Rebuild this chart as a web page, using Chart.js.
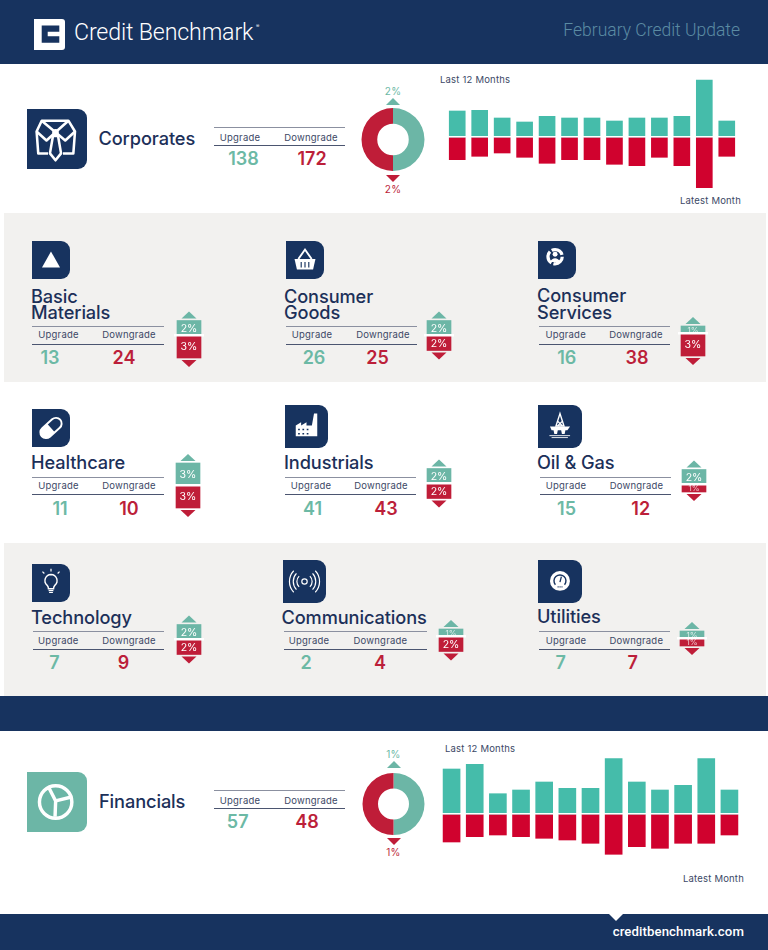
<!DOCTYPE html>
<html>
<head>
<meta charset="utf-8">
<title>February Credit Update</title>
<script src="https://cdn.jsdelivr.net/npm/chart.js@4/dist/chart.umd.min.js"></script>
<style>
  html, body { margin: 0; padding: 0; background: #fff; }
  #page { position: relative; width: 768px; height: 950px; overflow: hidden; background: #fff; font-family: "Inter", Roboto, sans-serif; color: #1a3059; }
  #page > * { position: absolute; }
  .band { background: #17335f; left: 0; width: 768px; }
  .panel { background: #f2f1ef; left: 4px; width: 762px; }
  .t { white-space: nowrap; line-height: 1; }
  .c { transform: translate(-50%, -50%); }
  .l { transform: translateY(-50%); }
  .name { font-size: 18.2px; font-weight: 500; letter-spacing: -0.1px; line-height: 16.5px; color: #1c3059; }
  .head { font-size: 9.5px; color: #3c4866; letter-spacing: 0.2px; }
  .val { font-size: 18px; font-weight: 600; }
  .note { font-size: 9.5px; color: #3c4866; letter-spacing: 0.2px; }
  .up { color: #6cb9a5; }
  .down { color: #bc1f3a; }
  .rule { height: 0; }
  .icon { background: #17335f; border-radius: 0 9px 9px 0; }
  .icon svg { width: 100%; height: 100%; display: block; }
  canvas { display: block; }
  .tri { width: 0; height: 0; border-left: 7px solid transparent; border-right: 7px solid transparent; }
</style>
</head>
<body>
<div id="page"></div>
<script>
const months = ['Feb', 'Mar', 'Apr', 'May', 'Jun', 'Jul', 'Aug', 'Sep', 'Oct', 'Nov', 'Dec', 'Jan', 'Feb'];

// bar heights (no axis in the original, so arbitrary units)
const corporatesUp = [26, 26.7, 19, 15, 20.7, 19, 19, 16, 19, 19, 20.7, 57, 16];
const corporatesDown = [22.7, 19.3, 16, 20.3, 26.3, 22.7, 22.7, 27.3, 28.7, 20.3, 28.7, 50.7, 19.3];
const financialsUp = [45, 49.7, 20.3, 24, 32, 25.7, 25.7, 55.3, 32, 24, 28.7, 55.3, 24];
const financialsDown = [28, 22.7, 21, 22.7, 24.3, 26, 29.3, 40.3, 32.7, 34.3, 29.3, 29.3, 21];

const corporatesShare = [2, 2];
const financialsShare = [1, 1];
const corporatesCounts = [138, 172];
const financialsCounts = [57, 48];

const sectorNames = ['Basic\nMaterials', 'Consumer\nGoods', 'Consumer\nServices', 'Healthcare', 'Industrials', 'Oil & Gas', 'Technology', 'Communications', 'Utilities'];
const sectorUpgrades = [13, 26, 16, 11, 41, 15, 7, 2, 7];
const sectorDowngrades = [24, 25, 38, 10, 43, 12, 9, 4, 7];
const sectorUpPct = [2, 2, 1, 3, 2, 2, 2, 1, 1];
const sectorDownPct = [3, 2, 3, 3, 2, 1, 2, 2, 1];

const TEAL = '#6cb6a6', RED = '#bf1d38', BAR_TEAL = '#45bcaa', BAR_RED = '#d0022e';

// where each sector block sits on the page
const cards = [
  { icon: 'triangle', ix: 32, iy: 241, iw: 38, ih: 38, tx: 31, ty: 303.5, x1: 32, x2: 164, r1: 325.5, r2: 344, hu: 58.5, hd: 129, vu: 50, vd: 124, vy: 358, mx: 188.7, my: 335.3 },
  { icon: 'basket', ix: 286, iy: 241, iw: 38, ih: 38, tx: 284, ty: 303.5, x1: 286, x2: 417, r1: 325.5, r2: 344, hu: 312, hd: 383, vu: 314, vd: 377.5, vy: 358, mx: 439.3, my: 335.3 },
  { icon: 'service', ix: 538, iy: 241, iw: 38, ih: 38, tx: 537, ty: 303, x1: 539, x2: 670, r1: 325.5, r2: 344, hu: 565.7, hd: 636, vu: 566.7, vd: 637, vy: 358, mx: 693, my: 333.7 },
  { icon: 'pill', ix: 32, iy: 409, iw: 38, ih: 38, tx: 31, ty: 462, x1: 32, x2: 164, r1: 477, r2: 494.3, hu: 58.5, hd: 129, vu: 60, vd: 129, vy: 508.5, mx: 188.3, my: 485.3 },
  { icon: 'factory', ix: 285, iy: 405, iw: 43, ih: 43, tx: 284, ty: 462, x1: 285, x2: 416, r1: 477, r2: 494.3, hu: 311, hd: 381, vu: 312.5, vd: 386, vy: 508.5, mx: 438.7, my: 483 },
  { icon: 'rig', ix: 538, iy: 405, iw: 43.5, ih: 43, tx: 537, ty: 461.5, x1: 540, x2: 671, r1: 477, r2: 494.3, hu: 566, hd: 636.5, vu: 566.5, vd: 640.7, vy: 508.5, mx: 694, my: 484.7 },
  { icon: 'bulb', ix: 32, iy: 564, iw: 38, ih: 38, tx: 31, ty: 617, x1: 33, x2: 164, r1: 631.3, r2: 649.3, hu: 58.3, hd: 129, vu: 54.4, vd: 123.5, vy: 663.3, mx: 188.7, my: 639 },
  { icon: 'signal', ix: 283, iy: 560, iw: 43, ih: 43, tx: 281.5, ty: 617, x1: 284, x2: 426.5, r1: 631.3, r2: 649.3, hu: 309, hd: 380.4, vu: 306, vd: 380, vy: 663.3, mx: 450.5, my: 636.8 },
  { icon: 'gauge', ix: 538, iy: 560, iw: 43.5, ih: 43, tx: 537, ty: 616, x1: 539, x2: 670, r1: 631.3, r2: 649.3, hu: 566, hd: 636.3, vu: 560.8, vd: 632.8, vy: 663.3, mx: 691.7, my: 638.2 }
];

const icons = {
  tie: '<g fill="none" stroke="#fff" stroke-width="1.7" stroke-linejoin="round"><path d="M14 29.600H7.500L6.400 15l3.400-7.200h17.800L32 15l-1.100 14.600H24"/><path d="M9.800 7.800l9.200 7.700 8.600-7.700"/><path d="M6.400 15l6.600 6 6-5.500 6.500 5.500L32 15"/><path d="M17.300 18h3.400l2 11.600-3.700 4.600-3.700-4.600z"/></g><circle cx="19" cy="15.500" r="2.200" fill="#fff"/>',
  triangle: '<path d="M20 11l9.500 17h-19z" fill="#fff"/>',
  basket: '<path d="M9 19h22l-2.500 11h-17z" fill="#fff"/><path d="M13 19l7-10 7 10" fill="none" stroke="#fff" stroke-width="2"/><path d="M16 22v6M20 22v6M24 22v6" stroke="#17335f" stroke-width="1.200"/>',
  service: '<circle cx="18" cy="16.500" r="7.500" fill="none" stroke="#fff" stroke-width="3.400" stroke-dasharray="13.500 2.200"/><circle cx="18" cy="14" r="2.600" fill="#fff"/><path d="M13 22c1.500-5 8.500-5 10 0z" fill="#fff"/>',
  pill: '<g transform="rotate(-42 20 20)"><rect x="7" y="14" width="26" height="12" rx="6" fill="none" stroke="#fff" stroke-width="2"/><path d="M13 14h7v12h-7a6 6 0 0 1 0-12z" fill="#fff"/></g>',
  factory: '<path d="M10 29V19l5-3v3l5-3v3h5l2-11h3v21z" fill="#fff"/><path d="M13 22v1.500M17 22v1.500M21 22v1.500M13 26v1.500M17 26v1.500M21 26v1.500" stroke="#17335f" stroke-width="1.600"/>',
  rig: '<path d="M20.200 8l-3.700 11.500h7.400zM18 15l4.500 4.500M22.500 15L18 19.500" fill="none" stroke="#fff" stroke-width="1.300"/><path d="M11 20h18.500l-2.500 3.500h-1.800l-.7 3.500h-2.500l-.7-3.500h-3.100l-.7 3.500h-2.500l-.7-3.500h-1.800z" fill="#fff"/><path d="M10.500 28.500h19M12.500 30.300h15" stroke="#fff" stroke-width=".8"/>',
  bulb: '<path d="M20 11a6.500 6.500 0 0 0-4 11.500c1 1 1.300 2 1.300 3.500h5.400c0-1.500.3-2.500 1.300-3.500A6.500 6.500 0 0 0 20 11z" fill="none" stroke="#fff" stroke-width="1.500"/><path d="M17.500 28h5M18 30h4M20 5v3M11 8l2 2M29 8l-2 2" stroke="#fff" stroke-width="1.300"/>',
  signal: '<g fill="none" stroke="#fff" stroke-width="1.100"><circle cx="20" cy="20" r="2.500"/><path d="M15 15a7 7 0 0 0 0 10M25 15a7 7 0 0 1 0 10M12.500 12.500a11 11 0 0 0 0 15M27.500 12.500a11 11 0 0 1 0 15M10 10a14.500 14.500 0 0 0 0 20M30 10a14.500 14.500 0 0 1 0 20"/></g>',
  gauge: '<circle cx="20.200" cy="19.500" r="9.200" fill="#fff"/><path d="M16 23a5.500 5.500 0 1 1 8.400 0" fill="none" stroke="#17335f" stroke-width="1.300"/><path d="M20.200 20.500l1.300-5" stroke="#17335f" stroke-width="1.200"/><path d="M18 25h4.500" stroke="#17335f" stroke-width="1.200" stroke-dasharray="1 .8"/>',
  pie: '<g fill="none" stroke="#fff" stroke-width="2.300"><circle cx="19.100" cy="20" r="10.800"/><path d="M19.100 19.300L14.600 10.500M19.100 19.300l11.200-2.800M19.100 19.300l-.4 10.500"/></g>'
};

const page = document.getElementById('page');

function add(css, cls, html) {
  const el = document.createElement('div');
  el.className = cls || '';
  el.style.cssText = css;
  if (html) el.innerHTML = html;
  page.appendChild(el);
  return el;
}

function text(str, x, y, cls, extra) {
  const el = add('left:' + x + 'px;top:' + y + 'px;' + (extra || ''), 't ' + cls);
  el.textContent = str;
  return el;
}

function rule(x1, x2, y, color, w) {
  add('left:' + x1 + 'px;top:' + y + 'px;width:' + (x2 - x1) + 'px;border-top:' + w + 'px solid ' + color, 'rule');
}

function icon(name, x, y, w, h, bg) {
  add('left:' + x + 'px;top:' + y + 'px;width:' + w + 'px;height:' + h + 'px;' + (bg ? 'background:' + bg : ''), 'icon',
    '<svg viewBox="0 0 40 40" preserveAspectRatio="none">' + icons[name] + '</svg>');
}

function canvas(x, y, w, h) {
  const holder = add('left:' + x + 'px;top:' + y + 'px;width:' + w + 'px;height:' + h + 'px');
  const cv = document.createElement('canvas');
  holder.appendChild(cv);
  return cv;
}

function triangle(cx, y, isUp, color) {
  const side = isUp ? 'border-bottom' : 'border-top';
  add('left:' + (cx - 7) + 'px;top:' + y + 'px;' + side + ':7px solid ' + color, 'tri');
}

function countTable(x1, x2, r1, r2, hu, hd, hy, vu, vd, vy, up, down) {
  rule(x1, x2, r1, '#8b90a0', 1.5);
  rule(x1, x2, r2, '#4b5570', 1);
  text('Upgrade', hu, hy, 'head c');
  text('Downgrade', hd, hy, 'head c');
  text(up, vu, vy, 'val up c');
  text(down, vd, vy, 'val down c');
}

function trendChart(cv, up, down, top, bottom, thickness) {
  return new Chart(cv, {
    type: 'bar',
    data: {
      labels: months,
      datasets: [
        { label: 'Upgrade', data: up, backgroundColor: BAR_TEAL, barThickness: thickness },
        { label: 'Downgrade', data: down.map(v => -v), backgroundColor: BAR_RED, barThickness: thickness }
      ]
    },
    options: {
      responsive: true,
      maintainAspectRatio: false,
      animation: false,
      plugins: { legend: { display: false }, tooltip: { enabled: false } },
      scales: {
        x: { stacked: true, position: { y: 0 }, grid: { display: false }, ticks: { display: false }, border: { color: '#fff', width: 1.5, z: 1 } },
        y: { stacked: true, display: false, min: bottom, max: top }
      }
    }
  });
}

function shareChart(cv, share) {
  return new Chart(cv, {
    type: 'doughnut',
    data: {
      labels: ['Upgrade', 'Downgrade'],
      datasets: [{ data: share, backgroundColor: [TEAL, RED], borderWidth: 0 }]
    },
    options: {
      responsive: true,
      maintainAspectRatio: false,
      animation: false,
      cutout: '50%',
      plugins: { legend: { display: false }, tooltip: { enabled: false } }
    }
  });
}

// writes the % in each small bar and puts the arrow just past its end
const miniMarks = {
  id: 'miniMarks',
  afterDatasetsDraw(chart) {
    const ctx = chart.ctx;
    chart.data.datasets.forEach((ds, i) => {
      const bar = chart.getDatasetMeta(i).data[0];
      const isUp = i === 0;
      const tipBase = bar.y + (isUp ? -2 : 2);
      const tip = tipBase + (isUp ? -7 : 7);
      ctx.save();
      ctx.fillStyle = ds.backgroundColor;
      ctx.beginPath();
      ctx.moveTo(bar.x - 7.5, tipBase);
      ctx.lineTo(bar.x + 7.5, tipBase);
      ctx.lineTo(bar.x, tip);
      ctx.closePath();
      ctx.fill();
      const small = Math.abs(ds.data[0]) < 1.5;
      ctx.fillStyle = small ? 'rgba(255,255,255,0.75)' : '#fff';
      ctx.font = (small ? '8px' : '10.5px') + ' Inter, Roboto, sans-serif';
      ctx.textAlign = 'center';
      ctx.textBaseline = 'middle';
      ctx.fillText(Math.abs(ds.data[0]) + '%', bar.x, (bar.y + bar.base) / 2 + 0.5);
      ctx.restore();
    });
  }
};

function miniChart(cv, up, down) {
  return new Chart(cv, {
    type: 'bar',
    data: {
      labels: ['Latest'],
      datasets: [
        { data: [up], backgroundColor: TEAL, barThickness: 24 },
        { data: [-down], backgroundColor: RED, barThickness: 24 }
      ]
    },
    plugins: [miniMarks],
    options: {
      responsive: true,
      maintainAspectRatio: false,
      animation: false,
      plugins: { legend: { display: false }, tooltip: { enabled: false } },
      scales: {
        x: { stacked: true, position: { y: 0 }, grid: { display: false }, ticks: { display: false }, border: { color: '#fff', width: 2.5, z: 1 } },
        y: { stacked: true, display: false, min: -5, max: 5 }
      }
    }
  });
}

// page furniture
add('top:0;height:64px', 'band');
add('top:213px;height:169px', 'panel');
add('top:543px;height:153px', 'panel');
add('top:696px;height:35px', 'band');
add('top:914px;height:36px', 'band');
add('left:609px;top:914px;width:0;height:0;border-left:7px solid transparent;border-right:7px solid transparent;border-top:7px solid #fff');

add('left:34px;top:18.500px;width:31px;height:31px', '',
  '<svg viewBox="0 0 31 31" width="31" height="31"><path d="M0 0h28a3 3 0 0 1 3 3v25a3 3 0 0 1-3 3H0z" fill="#fff"/><path d="M7.700 6.500h17.600v6.300H13.700v4.500h11.600v6.500H7.700z" fill="#17335f"/></svg>');
text('Credit Benchmark', 74, 33, 'l', 'font-family:Roboto;font-size:23.2px;font-weight:300;color:#fff;letter-spacing:-0.15px');
text('®', 256, 26, 'l', 'font-size:5px;color:#fff');
text('February Credit Update', 740, 31, 'l', 'transform:translate(-100%,-50%);font-family:Roboto;font-size:17.5px;font-weight:300;color:#5b8ba3');

// corporates
icon('tie', 27, 109, 60, 60);
text('Corporates', 98.5, 137.7, 'name l');
countTable(214, 345, 126.5, 145.3, 240, 311, 137.5, 243.5, 312, 159, corporatesCounts[0], corporatesCounts[1]);
shareChart(canvas(361, 108, 64, 63), corporatesShare);
text(corporatesShare[0] + '%', 393, 90.7, 'note up c', 'font-size:10px');
triangle(393, 98, true, TEAL);
triangle(393, 175, false, RED);
text(corporatesShare[1] + '%', 393, 189, 'note down c', 'font-size:10px');
text('Last 12 Months', 440, 80, 'note l');
text('Latest Month', 741, 200.7, 'note', 'transform:translate(-100%,-50%)');
trendChart(canvas(446, 79, 292, 110), corporatesUp, corporatesDown, 58, -52, 16);

// sectors
cards.forEach((c, i) => {
  icon(c.icon, c.ix, c.iy, c.iw, c.ih);
  const name = text('', c.tx, c.ty, 'name l');
  name.style.whiteSpace = 'pre';
  name.textContent = sectorNames[i];
  const hy = (c.r1 + c.r2) / 2 + 0.7;
  countTable(c.x1, c.x2, c.r1, c.r2, c.hu, c.hd, hy, c.vu, c.vd, c.vy, sectorUpgrades[i], sectorDowngrades[i]);
  miniChart(canvas(c.mx - 15, c.my - 37.5, 30, 75), sectorUpPct[i], sectorDownPct[i]);
});

// financials
icon('pie', 26.5, 772, 60, 60, TEAL);
text('Financials', 99, 800.7, 'name l');
countTable(214, 345, 789.7, 808.3, 240, 311, 800.5, 237.7, 307, 822, financialsCounts[0], financialsCounts[1]);
shareChart(canvas(362, 773, 63, 62), financialsShare);
text(financialsShare[0] + '%', 393.5, 754.3, 'note up c', 'font-size:10px');
triangle(393.5, 761, true, TEAL);
triangle(393.5, 838.3, false, RED);
text(financialsShare[1] + '%', 393.5, 852.3, 'note down c', 'font-size:10px');
text('Last 12 Months', 445, 749, 'note l');
text('Latest Month', 744, 879.3, 'note', 'transform:translate(-100%,-50%)');
trendChart(canvas(440, 757, 301, 100), financialsUp, financialsDown, 57, -43, 17);

text('creditbenchmark.com', 744, 931.7, 't', 'transform:translate(-100%,-50%);font-family:Roboto;font-size:13.2px;font-weight:500;letter-spacing:0.1px;color:#fff');
</script>
</body>
</html>
